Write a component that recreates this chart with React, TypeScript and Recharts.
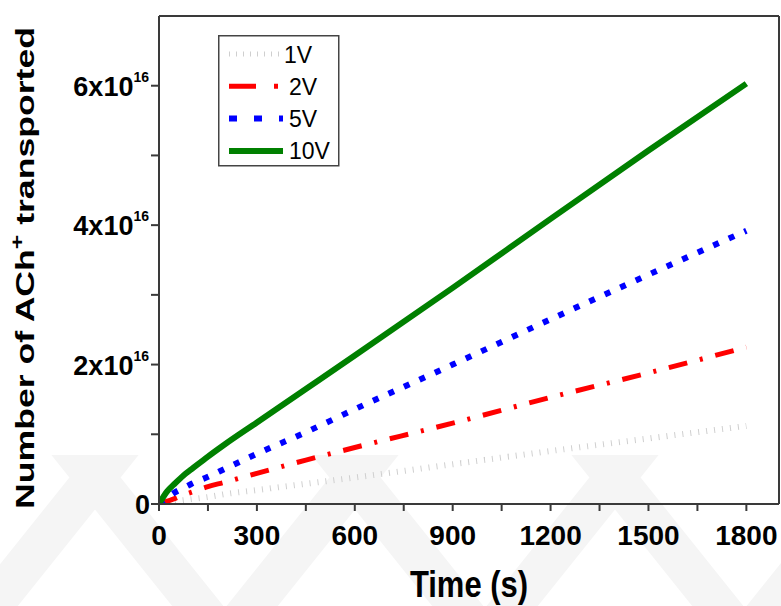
import React from "react";
import { LineChart, Line, XAxis, YAxis, Legend } from "recharts";

// time in seconds, values in units of 1e16 ions
const times = [0, 25, 50, 75, 100, 150, 200, 300, 450, 600, 900, 1200, 1500, 1800];
const v1V = [0, 0.02, 0.04, 0.055, 0.07, 0.1, 0.14, 0.2, 0.29, 0.38, 0.57, 0.76, 0.94, 1.12];
const v2V = [0, 0.04, 0.08, 0.13, 0.17, 0.25, 0.31, 0.44, 0.63, 0.81, 1.16, 1.53, 1.88, 2.25];
const v5V = [0, 0.09, 0.17, 0.23, 0.29, 0.39, 0.5, 0.72, 1.03, 1.36, 2.0, 2.65, 3.29, 3.92];
const v10V = [0, 0.18, 0.3, 0.41, 0.5, 0.68, 0.85, 1.17, 1.65, 2.13, 3.1, 4.09, 5.07, 6.03];

const xTicks = [0, 150, 300, 450, 600, 750, 900, 1050, 1200, 1350, 1500, 1650, 1800];
const yTicks = [0, 1, 2, 3, 4, 5, 6];
const seriesOrder = ["v1", "v2", "v5", "v10"];

const data = times.map((t, i) => ({ t, v1: v1V[i], v2: v2V[i], v5: v5V[i], v10: v10V[i] }));

const FONT = "'Liberation Sans', Arial, sans-serif";
const AXIS = "#3a3a3a";

// legend sample styles (legend uses its own dash scale, like the original)
const legendStyle: Record<string, { color: string; width: number; dash?: string }> = {
  v1: { color: "#cfcfcf", width: 5, dash: "1 6" },
  v2: { color: "#ff0000", width: 5, dash: "27 18 4 20" },
  v5: { color: "#0000ff", width: 6, dash: "8 17" },
  v10: { color: "#008000", width: 6 },
};

const XTick = ({ x, y, payload }: any) => {
  if (payload.value % 300 !== 0) return <g />;
  return (
    <text x={x} y={y + 34} textAnchor="middle" fontFamily={FONT} fontWeight="bold" fontSize={28} fill="#000">
      {payload.value}
    </text>
  );
};

const YTick = ({ x, y, payload }: any) => {
  const v = payload.value;
  if (v % 2 !== 0) return <g />;
  if (v === 0)
    return (
      <text x={x + 1} y={y + 10} textAnchor="end" fontFamily={FONT} fontWeight="bold" fontSize={27} fill="#000">
        0
      </text>
    );
  return (
    <text x={x} y={y + 10} textAnchor="end" fontFamily={FONT} fontWeight="bold" fontSize={27} fill="#000">
      <tspan>{`${v}x10`}</tspan>
      <tspan dy={-14} fontSize={14}>16</tspan>
    </text>
  );
};

const YTitle = ({ viewBox }: any) => {
  const cx = viewBox.x + 34;
  const cy = viewBox.y + viewBox.height / 2 + 8;
  return (
    <text
      transform={`translate(${cx},${cy}) rotate(-90)`}
      textAnchor="middle"
      fontFamily={FONT}
      fontWeight="bold"
      fontSize={26}
      fill="#000"
      textLength={482}
      lengthAdjust="spacingAndGlyphs"
    >
      Number of ACh
      <tspan dy={-11} fontSize={18}>+</tspan>
      <tspan dy={11}> transported</tspan>
    </text>
  );
};

const XTitle = ({ viewBox }: any) => {
  const cx = viewBox.x + viewBox.width / 2;
  return (
    <text
      transform={`translate(${cx},${viewBox.y + 93}) scale(1,1.18)`}
      textAnchor="middle"
      fontFamily={FONT}
      fontWeight="bold"
      fontSize={31}
      fill="#000"
    >
      Time (s)
    </text>
  );
};

const renderLegend = ({ payload }: any) => {
  const items = [...(payload || [])].sort(
    (a: any, b: any) => seriesOrder.indexOf(a.dataKey) - seriesOrder.indexOf(b.dataKey)
  );
  return (
    <svg width={122} height={132}>
      <rect x={0.75} y={0.75} width={120} height={130} fill="#fff" stroke="#444" strokeWidth={1.5} />
      {items.map((p: any, i: number) => {
        const s = legendStyle[p.dataKey];
        const ly = 19 + i * 32.3;
        return (
          <g key={p.dataKey}>
            <line x1={11} x2={65} y1={ly} y2={ly} stroke={s.color} strokeWidth={s.width} strokeDasharray={s.dash} />
            <text x={i === 0 ? 66 : 71} y={ly + 8.5} fontFamily={FONT} fontSize={23} fill="#000">
              {p.value}
            </text>
          </g>
        );
      })}
    </svg>
  );
};

// faint watermark chevrons in the background of the source figure
const chevronCenters = [-35, 225, 485, 745];

export default function App() {
  return (
    <div style={{ position: "absolute", left: 0, top: 0, width: 781, height: 606, background: "#fff" }}>
      <svg width={781} height={606} style={{ position: "absolute", left: 0, top: 0 }}>
        <defs>
          <clipPath id="wm">
            <rect x={0} y={455} width={781} height={151} />
          </clipPath>
        </defs>
        <g clipPath="url(#wm)">
          {chevronCenters.map((cx) => (
            <polyline
              key={cx}
              points={`${cx - 180},415 ${cx},640 ${cx + 180},415`}
              fill="none"
              stroke="#f5f5f5"
              strokeWidth={40}
              strokeLinejoin="miter"
            />
          ))}
        </g>
      </svg>
      <div style={{ position: "absolute", left: 0, top: 0 }}>
        <LineChart width={781} height={606} data={data} margin={{ top: 0, right: 0, bottom: 0, left: 0 }}>
          <XAxis
            dataKey="t"
            type="number"
            domain={[0, 1900]}
            ticks={xTicks}
            interval={0}
            allowDataOverflow
            height={102}
            tickSize={7}
            tickMargin={0}
            stroke={AXIS}
            strokeWidth={2}
            tick={(p: any) => <XTick {...p} />}
            label={{ content: (p: any) => <XTitle {...p} /> }}
          />
          <XAxis
            xAxisId="top"
            orientation="top"
            dataKey="t"
            type="number"
            domain={[0, 1900]}
            ticks={xTicks}
            interval={0}
            allowDataOverflow
            height={16}
            tickSize={3}
            tick={false}
            stroke={AXIS}
            strokeWidth={2}
          />
          <YAxis
            type="number"
            domain={[0, 7]}
            ticks={yTicks}
            interval={0}
            allowDataOverflow
            width={159}
            tickSize={8}
            tickMargin={2}
            stroke={AXIS}
            strokeWidth={2}
            tick={(p: any) => <YTick {...p} />}
            label={{ content: (p: any) => <YTitle {...p} /> }}
          />
          <YAxis
            yAxisId="right"
            orientation="right"
            type="number"
            domain={[0, 7]}
            ticks={yTicks}
            interval={0}
            width={2}
            tickSize={3}
            tick={false}
            stroke={AXIS}
            strokeWidth={2}
          />
          <Legend
            layout="vertical"
            align="center"
            verticalAlign="middle"
            content={renderLegend}
            wrapperStyle={{ left: 218, top: 35, width: 122, height: 132 }}
          />
          <Line type="monotone" dataKey="v1" name="1V" stroke="#cfcfcf" strokeWidth={6} strokeDasharray="1 7" dot={false} isAnimationActive={false} />
          <Line type="monotone" dataKey="v2" name="2V" stroke="#ff0000" strokeWidth={5} strokeDasharray="19 13 3 13" dot={false} isAnimationActive={false} />
          <Line type="monotone" dataKey="v5" name="5V" stroke="#0000ff" strokeWidth={6} strokeDasharray="6 11" dot={false} isAnimationActive={false} />
          <Line type="monotone" dataKey="v10" name="10V" stroke="#008000" strokeWidth={6} dot={false} isAnimationActive={false} />
        </LineChart>
      </div>
    </div>
  );
}
